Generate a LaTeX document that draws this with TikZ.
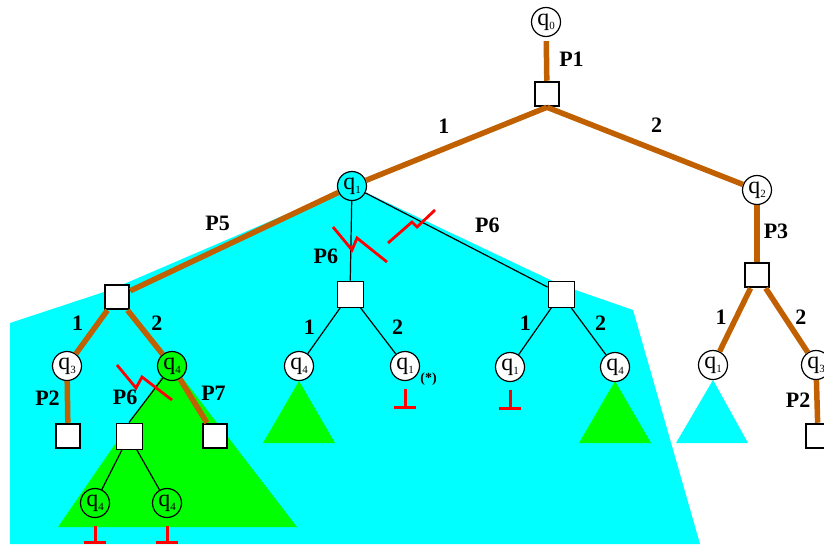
\documentclass[tikz,border=0pt]{standalone}
\usepackage{fontspec}
\setmainfont{Liberation Serif}
\definecolor{pathbrown}{RGB}{192,96,0}
\definecolor{aqua}{RGB}{0,255,255}
\definecolor{leaf}{RGB}{0,255,0}
\newcommand{\qs}[1]{q\raisebox{-4pt}{\fontsize{11}{11}\selectfont #1}}

\begin{document}
\begin{tikzpicture}[
  x=1pt, y=-1pt,
  qstate/.style={circle, draw=black, line width=1.2pt, fill=white, minimum size=29pt, inner sep=0pt, font=\fontsize{24}{24}\selectfont},
  pmove/.style={rectangle, draw=black, line width=2.5pt, fill=white, minimum size=24pt, inner sep=0pt},
  omove/.style={rectangle, draw=black, line width=1pt, fill=white, minimum size=26pt, inner sep=0pt},
  play/.style={draw=pathbrown, line width=5.5pt},
  plain/.style={draw=black, line width=1.2pt},
  lbl/.style={inner sep=2pt, font=\fontsize{22}{22}\selectfont\bfseries},
  starlbl/.style={inner sep=1pt, font=\fontsize{14}{14}\selectfont\bfseries},
  bolt/.style={draw=red, line width=2.8pt},
  fail/.style={draw=red, line width=3pt}
]
  \clip (0,0) rectangle (824,544);

  % Regiones coloreadas
  \fill[aqua] (10,323) -- (110,290) -- (352,186) -- (561,285) -- (633,310) -- (700,544) -- (10,544) -- cycle;
  \fill[leaf] (171,363) -- (58,527) -- (297,527) -- cycle;
  \fill[leaf] (299,381) -- ++(-36,62) -- ++(72,0) -- cycle;
  \fill[leaf] (615,381) -- ++(-36,62) -- ++(72,0) -- cycle;
  \fill[aqua] (713,380) -- ++(-37,63) -- ++(72,0) -- cycle;

  % Estados y jugadas
  \node[qstate] (q0) at (546,22) {\qs{0}};
  \node[pmove] (p1) at (547,94) {};
  \node[qstate, fill=aqua] (q1) at (352,186) {\qs{1}};
  \node[qstate] (q2) at (757,190) {\qs{2}};
  \node[pmove] (p3) at (757,275) {};
  \node[qstate] (rq1) at (713,365) {\qs{1}};
  \node[qstate] (rq3) at (816,365) {\qs{3}};
  \node[pmove] (rp2) at (818,436) {};
  \node[pmove] (p5) at (117,297) {};
  \node[qstate] (lq3) at (67,366) {\qs{3}};
  \node[qstate, fill=leaf] (lq4) at (172,366) {\qs{4}};
  \node[pmove] (lp2) at (68,436) {};
  \node[omove] (lp6) at (129,436) {};
  \node[pmove] (lp7) at (215,436) {};
  \node[qstate, fill=leaf] (lq4a) at (95,503) {\qs{4}};
  \node[qstate, fill=leaf] (lq4b) at (167,503) {\qs{4}};
  \node[omove] (mp6) at (350,294) {};
  \node[qstate] (mq4) at (299,366) {\qs{4}};
  \node[qstate, label={[starlbl]-20:(*)}] (mq1) at (405,366) {\qs{1}};
  \node[omove] (rp6) at (561,294) {};
  \node[qstate] (sq1) at (510,367) {\qs{1}};
  \node[qstate] (sq4) at (615,367) {\qs{4}};

  % Camino de la estrategia
  \draw[play, shorten <=4pt] (q0) -- node[lbl, right, xshift=8pt] {P1} (p1);
  \draw[play] (p1.south) -- node[lbl, above, pos=0.57, yshift=11pt] {1} (q1);
  \draw[play] (p1.south) -- node[lbl, above, pos=0.56, yshift=13pt] {2} (q2);
  \draw[play] (q1) -- node[lbl, above, pos=0.58, yshift=14pt] {P5} (p5);
  \draw[play] (q2) -- node[lbl, right, pos=0.47, xshift=2pt] {P3} (p3);
  \draw[play] (p3) -- node[lbl, left, pos=0.46, xshift=-5pt] {1} (rq1);
  \draw[play] (p3) -- node[lbl, right, pos=0.45, xshift=6pt] {2} (rq3);
  \draw[play] (rq3) -- node[lbl, left, pos=0.47, xshift=-2pt] {P2} (rp2);
  \draw[play] (p5) -- node[lbl, left, pos=0.3, xshift=-10pt] {1} (lq3);
  \draw[play] (p5) -- node[lbl, right, pos=0.29, xshift=9pt] {2} (lq4);
  \draw[play] (lq3) -- node[lbl, left, pos=0.4, xshift=-3pt] {P2} (lp2);
  \draw[play] (lq4) -- node[lbl, right, pos=0.32, xshift=8pt] {P7} (lp7);

  % Jugadas del oponente
  \draw[plain] (q1) -- node[lbl, left, pos=0.7, xshift=-10pt] {P6} (mp6);
  \draw[plain] (q1) -- node[lbl, above, pos=0.67, yshift=21pt] {P6} (rp6);
  \draw[plain] (mp6) -- node[lbl, left, pos=0.43, xshift=-9pt] {1} (mq4);
  \draw[plain] (mp6) -- node[lbl, right, pos=0.43, xshift=14pt] {2} (mq1);
  \draw[plain] (rp6) -- node[lbl, left, pos=0.34, xshift=-7pt] {1} (sq1);
  \draw[plain] (rp6) -- node[lbl, right, pos=0.33, xshift=10pt] {2} (sq4);
  \draw[plain] (lq4) -- node[lbl, left, pos=0.44, xshift=-8pt] {P6} (lp6.north);
  \draw[plain] (lp6) -- (lq4a);
  \draw[plain] (lp6) -- (lq4b);

  % Cortes
  \draw[bolt] (333,227) -- (352,250) -- (357,238) -- (387,262);
  \draw[bolt] (388,243) -- (412,222) -- (417,227) -- (435,210);
  \draw[bolt] (117,365) -- (136,388) -- (142,377) -- (172,400);

  % Fallos
  \foreach \n/\len in {mq1/18, sq1/18, lq4a/16, lq4b/16}
    \draw[fail] ([yshift=-8pt]\n.south) -- ++(0,\len) ++(-11,0) -- ++(22,0);

\end{tikzpicture}
\end{document}
